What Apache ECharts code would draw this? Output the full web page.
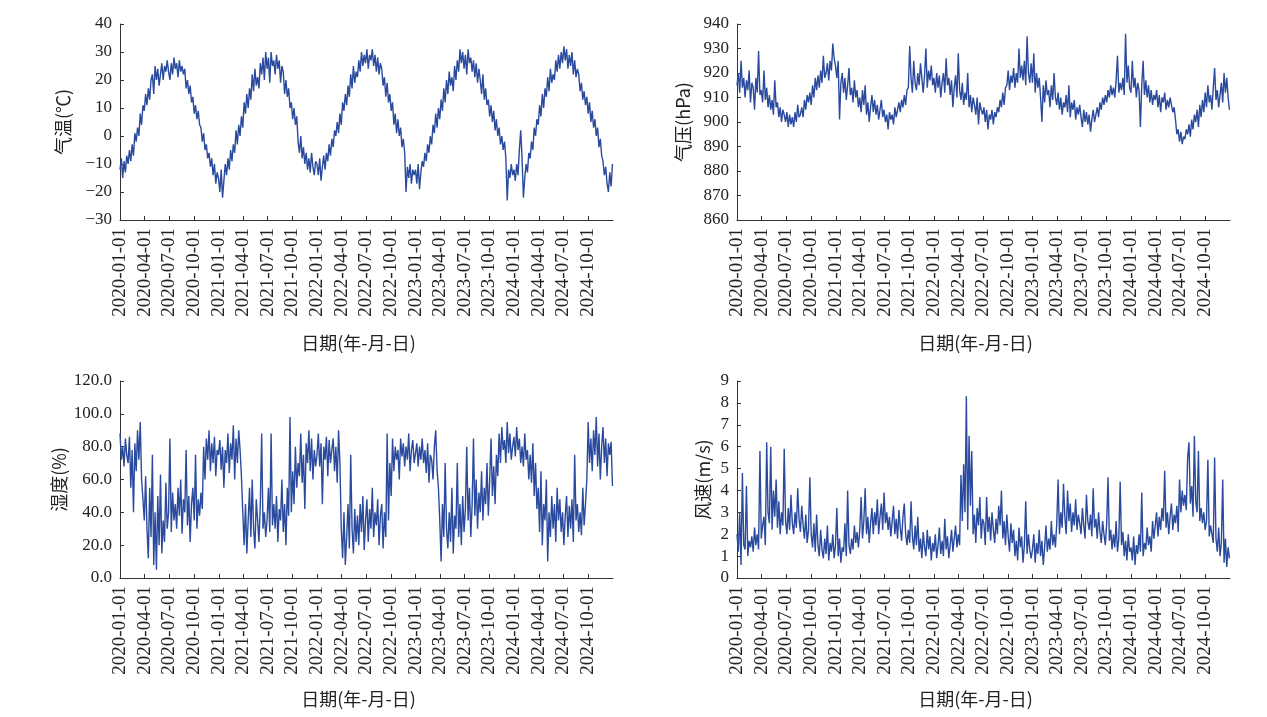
<!DOCTYPE html>
<html><head><meta charset="utf-8">
<script src="https://cdn.jsdelivr.net/npm/echarts@6/dist/echarts.min.js"></script>
<style>html,body{margin:0;padding:0;background:#fff}#c{width:1267px;height:717px}</style>
</head><body><div id="c"></div>
<script>
// sampling: one value every 5 days starting 2020-01-01
const startYear = 2020, stepDays = 5;
const quarterLabels = ['2020-01-01','2020-04-01','2020-07-01','2020-10-01','2021-01-01','2021-04-01','2021-07-01','2021-10-01',
  '2022-01-01','2022-04-01','2022-07-01','2022-10-01','2023-01-01','2023-04-01','2023-07-01','2023-10-01',
  '2024-01-01','2024-04-01','2024-07-01','2024-10-01'];
const axisEnd = '2025-01-01';

const temperature = [
 -12,-8,-15,-9,-13,-7, -10,-5,-9,-3,-7,1, -2,3,0,8,4,11, 9,15,11,17,13,20, 22,15,25,20,24,18, 22,26,20,25,23,27,
 23,20,26,22,28,24, 26,21,27,23,25,22, 24,17,20,15,18,12, 14,8,11,6,9,4, 3,-2,1,-5,-3,-8, -6,-11,-8,-14,-10,-17,-13,
 -15,-20,-12,-22,-16,-10, -14,-8,-12,-5,-9,-3, -6,2,-3,4,0,7, 3,12,8,15,10,17, 13,22,16,24,18,21, 17,26,22,28,20,30,
 24,28,19,30,25,27, 22,29,24,27,19,25, 23,15,20,14,17,10, 12,6,10,4,7,-2, -6,0,-8,-4,-10,-6, -12,-8,-13,-6,-11,-14,-9,
 -10,-14,-8,-16,-11,-7, -12,-6,-9,-3,-7,-1, -4,2,0,5,1,8, 4,12,9,15,11,18, 14,22,17,25,19,23, 21,27,23,30,25,29,
 26,31,24,29,27,31, 25,29,23,28,22,26, 24,18,21,14,19,12, 15,9,12,4,8,1, 6,0,3,-4,-1,-6, -20,-11,-15,-10,-17,-12,-14,
 -12,-17,-10,-19,-13,-9, -11,-6,-9,-3,-6,0, -3,4,1,8,3,10, 6,13,9,17,12,20, 15,23,18,21,16,25, 20,27,23,31,26,30,
 24,29,22,31,26,28, 23,27,21,26,19,24, 20,15,22,13,17,11, 13,7,11,5,9,2, 6,0,3,-3,0,-5, -2,-8,-23,-12,-15,-10,-14,
 -12,-16,-10,-14,-5,2, -8,-22,-15,-10,-13,-6, -8,-2,-5,3,0,6, 4,11,7,15,10,17, 14,21,16,24,19,22, 20,27,23,29,24,30,
 26,32,27,31,24,29, 25,30,22,27,21,24, 22,16,19,13,16,11, 14,8,12,5,9,3, 6,0,3,-4,-1,-7, -9,-14,-11,-17,-20,-13,-18,-10
];
const pressure = [
 915,920,912,925,914,918, 910,917,913,921,908,916, 914,905,918,912,929,911, 913,908,921,909,914,906, 911,905,909,903,917,906, 908,902,906,900,905,903,
 900,904,898,903,899,902, 898,904,900,907,902,903, 906,902,909,905,911,908, 912,907,915,910,918,913, 919,914,921,916,927,918, 920,924,917,925,921,932,926,
 923,918,925,901,916,920, 912,918,909,915,922,911, 914,908,917,910,913,906, 910,904,913,907,915,903, 908,900,906,911,904,909, 903,907,901,905,909,902,
 905,900,903,897,904,901, 903,899,906,902,905,908, 904,909,906,911,907,913, 914,931,918,912,925,916, 913,920,915,924,918,912, 919,930,914,921,917,923,915,
 918,912,920,914,919,910, 916,920,912,926,915,918, 911,917,906,914,919,910, 928,913,909,916,907,912, 909,920,906,911,904,910, 907,903,910,899,908,905,
 903,906,900,905,897,903, 901,905,899,904,902,906, 904,909,906,912,907,914, 915,921,913,919,916,922, 914,920,916,930,918,923, 917,925,915,935,920,916,924,
 916,928,912,920,914,918, 910,900,915,908,917,911, 913,906,915,909,920,910, 907,912,905,910,903,908, 906,911,904,915,902,908, 905,909,901,906,903,907,
 902,898,905,900,904,899, 903,896,901,905,900,903, 906,902,908,905,910,907, 911,908,913,910,915,911, 914,910,917,927,912,916, 913,918,911,936,916,923,914,
 912,925,914,918,910,916, 913,898,915,925,911,917, 910,915,908,913,907,911, 909,913,906,911,904,910, 908,912,905,909,906,910, 907,904,906,901,895,897,
 892,896,891,894,893,897, 895,899,894,901,897,903, 900,905,898,907,902,909, 904,912,906,915,908,911, 905,914,922,909,913,906, 911,916,908,920,912,918,910,905
];
const humidity = [
 88,72,80,68,85,75, 70,86,55,78,40,82, 65,90,72,95,60,48, 35,62,30,12,55,25, 75,8,40,5,50,20, 63,15,35,22,58,30,
 40,85,28,52,35,45, 30,55,38,60,27,48, 40,78,32,50,22,45, 55,35,75,30,48,38, 52,42,80,60,85,72, 90,65,82,70,86,62,78,
 75,84,66,80,55,78, 70,88,64,82,72,93, 60,85,70,90,78,62, 40,20,45,15,35,55, 25,60,30,18,48,35, 22,45,88,30,40,25,
 35,55,28,88,32,45, 30,50,22,42,35,60, 28,45,20,55,38,98, 40,65,45,80,55,70, 62,88,58,75,42,82, 70,90,65,85,60,78,68,
 75,88,68,82,45,80, 72,86,62,84,70,78, 85,65,80,58,90,70, 30,12,40,8,25,45, 18,75,30,15,42,22, 38,20,45,28,50,17,
 35,48,22,42,30,55, 25,40,32,48,20,38, 45,18,40,25,88,35, 70,50,85,65,80,72, 78,60,85,74,82,68, 80,72,88,65,78,84,70,
 76,82,68,80,72,85, 70,78,64,82,58,75, 72,60,80,90,66,55, 35,10,45,25,70,30, 18,40,22,55,15,38, 30,70,25,45,20,50,
 28,42,80,35,55,25, 45,85,38,60,30,52, 40,65,35,55,45,70, 38,60,85,50,68,45, 75,62,88,70,92,78, 84,70,95,76,88,72,80,
 86,74,92,78,85,70, 80,68,88,72,78,60, 75,58,82,50,70,42, 55,28,65,20,45,35, 60,10,40,25,50,30, 45,22,55,35,48,28,
 40,20,38,50,25,44, 30,48,22,75,35,45, 28,40,26,55,32,45, 60,95,70,85,65,90, 75,98,68,88,60,80, 92,70,85,62,82,75,83,56
];
const windSpeed = [
 2.0,1.2,3.0,0.6,4.8,1.5, 1.3,4.2,1.0,1.7,1.4,1.9, 1.2,2.3,1.5,2.0,1.3,5.8, 1.8,2.4,2.8,1.5,6.2,3.0, 2.5,6.0,2.2,4.0,2.8,4.5, 2.3,3.5,2.0,3.0,2.4,5.9,
 2.6,2.0,3.2,2.2,3.8,2.5, 2.0,3.0,2.3,4.1,2.7,2.1, 3.3,2.4,1.8,2.9,1.6,2.2, 4.6,2.0,1.4,2.5,1.2,2.9, 1.5,1.0,2.2,1.3,0.9,1.8, 1.1,2.4,0.8,1.6,1.2,2.0,0.9,
 1.5,3.2,1.0,1.8,0.7,1.4, 1.2,2.5,1.0,4.0,1.5,1.1, 1.8,1.3,2.4,1.6,2.1,1.4, 2.2,3.7,1.8,2.6,4.1,2.0, 2.8,1.6,2.5,3.2,2.0,3.0, 2.4,3.6,2.0,2.8,3.4,2.2,
 3.9,2.5,3.0,2.2,2.8,1.9, 2.6,3.3,2.0,2.7,1.8,3.1, 2.3,1.7,2.8,3.4,2.0,1.5, 2.2,1.6,3.5,1.9,1.3,2.4, 1.5,2.8,1.2,1.8,0.9,2.1, 1.4,1.0,2.2,1.3,1.9,0.8,1.6,
 1.2,2.0,0.9,1.5,2.3,1.1, 1.7,1.0,2.7,1.3,1.9,0.9, 1.5,2.2,1.2,1.8,2.4,1.4, 2.0,1.5,4.7,2.6,5.2,3.0, 8.3,2.2,6.5,3.3,5.8,2.0, 2.9,1.6,3.2,2.4,3.7,1.8,
 2.7,2.5,1.5,3.7,2.1,2.8, 1.7,3.0,2.2,1.6,2.7,2.0, 3.3,2.4,4.0,1.8,2.6,1.5, 2.9,1.9,1.2,2.5,1.6,2.2, 1.0,1.7,0.8,2.3,1.4,1.9, 0.7,1.5,3.5,1.1,2.0,1.3,0.9,
 1.3,2.0,0.7,1.6,1.1,2.2, 1.0,1.7,0.6,1.4,2.4,1.2, 1.8,1.3,2.6,1.5,2.0,1.4, 2.5,4.5,2.0,3.0,2.3,4.3, 2.8,2.0,4.0,2.6,3.4,2.1, 3.0,2.4,3.6,2.2,2.9,2.5,
 2.0,3.2,2.4,1.8,3.8,2.6, 2.2,2.9,1.9,4.1,2.3,2.7, 1.8,3.0,2.1,1.6,2.6,2.0, 1.5,2.5,4.6,1.7,2.2,1.3, 2.0,1.4,2.6,1.2,1.8,4.4, 1.5,2.1,1.0,1.7,0.8,2.0,1.2,
 1.4,0.8,1.9,0.6,1.5,1.1, 2.0,1.2,3.9,1.0,1.6,1.3, 2.3,1.5,1.9,1.2,2.6,1.8, 2.4,3.0,1.9,2.8,2.2,3.2, 2.6,4.9,2.3,3.0,2.0,2.8, 3.4,2.2,2.9,2.5,3.3,2.1,
 4.5,3.0,4.0,3.3,3.8,3.1, 5.5,6.2,3.4,4.2,2.8,6.5, 3.5,3.0,5.8,2.6,3.2,2.5, 3.0,2.2,2.6,5.4,1.9,2.4, 2.0,1.6,5.5,1.8,1.2,2.3, 1.0,1.6,4.5,0.7,1.8,0.5,1.4,0.9
];

const panels = [
  {name: '气温(℃)', values: temperature, min: -30, max: 40, interval: 10, grid: {left: 120, right: 654, top: 24, height: 196}, nameGap: 48, fmt: v => String(v).replace('-', '−')},
  {name: '气压(hPa)', values: pressure, min: 860, max: 940, interval: 10, grid: {left: 737, right: 37, top: 24, height: 196}, nameGap: 45, fmt: v => String(v)},
  {name: '湿度(%)', values: humidity, min: 0, max: 120, interval: 20, grid: {left: 120, right: 654, top: 381, height: 197}, nameGap: 52, fmt: v => v.toFixed(1)},
  {name: '风速(m/s)', values: windSpeed, min: 0, max: 9, interval: 1, grid: {left: 737, right: 37, top: 381, height: 197}, nameGap: 25, fmt: v => String(v)}
];

const DAY = 86400000;
const t0 = Date.UTC(startYear, 0, 1);
function dayOf(s) { const p = s.split('-').map(Number); return Math.round((Date.UTC(p[0], p[1] - 1, p[2]) - t0) / DAY); }
function pad(n) { return n < 10 ? '0' + n : '' + n; }
function fmtDay(day) { const d = new Date(t0 + Math.round(day) * DAY); return d.getUTCFullYear() + '-' + pad(d.getUTCMonth() + 1) + '-' + pad(d.getUTCDate()); }

const tickDays = quarterLabels.map(dayOf);
const axisColor = '#333';
const serif = '"Liberation Serif", "Times New Roman", serif';
const cjk = '"Noto Sans CJK SC", "Liberation Serif", sans-serif';

const option = {
  animation: false,
  backgroundColor: '#fff',
  grid: panels.map(p => p.grid),
  xAxis: panels.map((p, k) => ({
    type: 'value', gridIndex: k,
    min: 0, max: dayOf(axisEnd),
    name: '日期(年-月-日)', nameLocation: 'middle', nameGap: k < 2 ? 114 : 112,
    nameTextStyle: {fontFamily: cjk, fontSize: 18, color: '#222', padding: [0, 16, 0, 0]},
    axisLine: {onZero: false, lineStyle: {color: axisColor, width: 1}},
    axisTick: {show: true, inside: true, length: 4, customValues: tickDays, lineStyle: {color: axisColor}},
    axisLabel: {rotate: 90, margin: 8, fontFamily: serif, fontSize: 19, color: '#222', customValues: tickDays, formatter: v => fmtDay(v), hideOverlap: false},
    splitLine: {show: false}
  })),
  yAxis: panels.map((p, k) => ({
    type: 'value', gridIndex: k, min: p.min, max: p.max, interval: p.interval,
    name: p.name, nameLocation: 'middle', nameGap: p.nameGap,
    nameTextStyle: {fontFamily: cjk, fontSize: 18, color: '#222'},
    axisLine: {show: true, onZero: false, lineStyle: {color: axisColor, width: 1}},
    axisTick: {show: true, inside: true, length: 4, lineStyle: {color: axisColor}},
    axisLabel: {margin: 8, fontFamily: serif, fontSize: 17, color: '#222', formatter: p.fmt},
    splitLine: {show: false}
  })),
  series: panels.map((p, k) => ({
    type: 'line', xAxisIndex: k, yAxisIndex: k, showSymbol: false, symbol: 'none', silent: true,
    lineStyle: {color: '#2a4a9e', width: 1.4}, itemStyle: {color: '#2a4a9e'},
    data: p.values.map((v, i) => [i * stepDays, v])
  }))
};

const chart = echarts.init(document.getElementById('c'), null, {renderer: 'canvas'});
chart.setOption(option);
</script></body></html>
